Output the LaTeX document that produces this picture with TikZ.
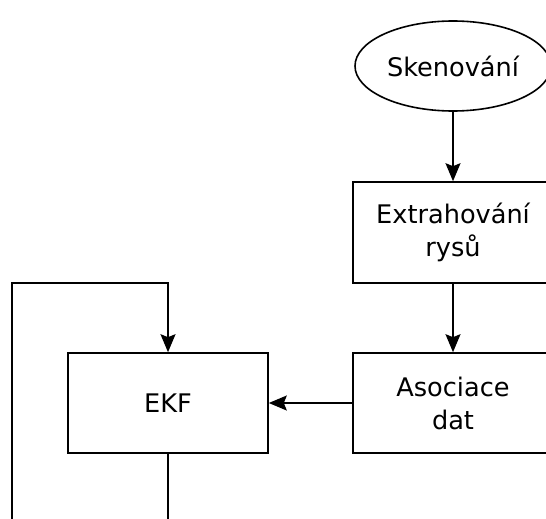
\documentclass[tikz,border=0pt]{standalone}
\usepackage{fontspec}
\setmainfont{DejaVu Sans}
\usetikzlibrary{shapes.geometric, arrows.meta}

\begin{document}
\begin{tikzpicture}[
    x=0.5pt,y=-0.5pt,
    line width=0.8pt,
    >={Stealth[length=9pt,width=7.5pt,inset=1.5pt]},
    box/.style={draw, rectangle, minimum width=100pt, minimum height=50pt,
      align=center, font=\fontsize{12.8}{16.5}\selectfont},
    oval/.style={draw, ellipse, inner sep=0pt, minimum width=98pt, minimum height=45pt,
      font=\fontsize{12.8}{16.5}\selectfont}
    ]
    \useasboundingbox (0, 0) rectangle (546, 519);
    \clip (0, 0) rectangle (546, 519);
    \node[oval] (scan) at (453, 66) {Skenování};
    \node[box, minimum height=50.5pt] (extract) at (453, 232.5) {Extrahování\\rysů};
    \node[box] (assoc) at (453, 403) {Asociace\\dat};
    \node[box] (ekf) at (168, 403) {EKF};
    \coordinate (ekfout) at (168, 530);
    \coordinate (loopbl) at (12, 530);
    \coordinate (looptl) at (12, 283);
    \coordinate (looptr) at (168, 283);
    \draw[->] (scan) -- (extract);
    \draw[->] (extract) -- (assoc);
    \draw[->] (assoc) -- (ekf);
    \draw (ekf) -- (ekfout);
    \draw[->] (loopbl) -- (looptl) -- (looptr) -- (ekf);
  \end{tikzpicture}
\end{document}
